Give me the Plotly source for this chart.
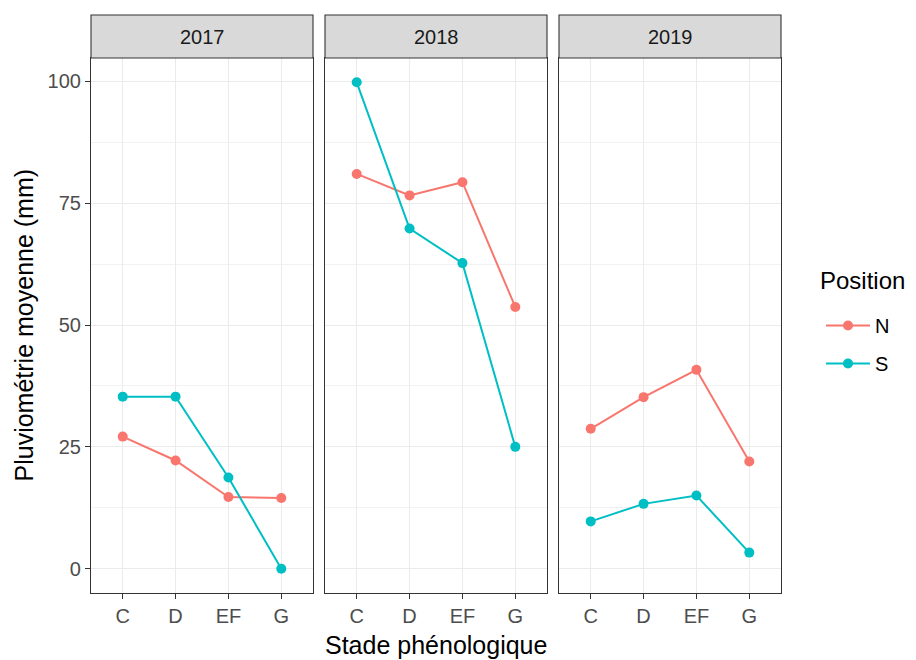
import plotly.graph_objects as go

# Data
years = ["2017", "2018", "2019"]
stades = ["C", "D", "EF", "G"]
pluvio_n = {
    "2017": [27.1, 22.2, 14.7, 14.5],
    "2018": [81.0, 76.6, 79.3, 53.7],
    "2019": [28.7, 35.2, 40.8, 22.0],
}
pluvio_s = {
    "2017": [35.3, 35.3, 18.7, 0.0],
    "2018": [99.8, 69.8, 62.7, 25.0],
    "2019": [9.7, 13.3, 15.0, 3.3],
}
y_ticks = [0, 25, 50, 75, 100]

# the page body has an 8px margin, so the figure starts 8px in;
# positions below are given in window pixels and shifted by OFF
OFF = 8
W, H = 916, 660
col_n = "#F8766D"
col_s = "#00BFC4"
font_family = "Liberation Sans, Arial, sans-serif"


def px(x):
    return (x - OFF) / W


def py(y):
    return 1 - (y - OFF) / H


# panel pixel positions (window coords)
panels_px = [(91, 313), (325, 547), (559, 781)]
panel_top, panel_bottom = 58, 593
strip_top = 15

fig = go.Figure()

for i, yr in enumerate(years):
    suffix = "" if i == 0 else str(i + 1)
    for name, series, col in (("N", pluvio_n, col_n), ("S", pluvio_s, col_s)):
        fig.add_trace(go.Scatter(
            x=stades, y=series[yr],
            mode="lines+markers",
            name=name,
            legendgroup=name,
            showlegend=(i == 0),
            line=dict(color=col, width=2),
            marker=dict(color=col, size=10),
            xaxis="x" + suffix, yaxis="y" + suffix,
        ))

layout = dict(
    width=W, height=H,
    margin=dict(l=0, r=0, t=0, b=0),
    plot_bgcolor="white", paper_bgcolor="white",
    font=dict(family=font_family, color="#000000"),
    showlegend=True,
    legend=dict(
        font=dict(size=20, color="#000000"),
        x=px(821), y=py(306), xanchor="left", yanchor="top",
        bgcolor="rgba(0,0,0,0)", tracegroupgap=9, itemwidth=44,
    ),
)

for i, (l, r) in enumerate(panels_px):
    suffix = "" if i == 0 else str(i + 1)
    layout["xaxis" + suffix] = dict(
        domain=[px(l), px(r)],
        type="category", categoryorder="array", categoryarray=stades,
        range=[-0.6, 3.6],
        showgrid=True, gridcolor="#EBEBEB", gridwidth=1.3,
        showline=True, linecolor="#333333", linewidth=1.1, mirror=True,
        ticks="outside", ticklen=5, tickcolor="#333333",
        tickfont=dict(size=20, color="#4D4D4D"),
        zeroline=False, anchor="y" + suffix,
    )
    layout["yaxis" + suffix] = dict(
        domain=[py(panel_bottom), py(panel_top)],
        range=[-4.99, 104.79],
        tickvals=y_ticks,
        showticklabels=(i == 0),
        showgrid=True, gridcolor="#EBEBEB", gridwidth=1.3,
        minor=dict(tickvals=[12.5, 37.5, 62.5, 87.5], showgrid=True,
                   gridcolor="#F2F2F2", gridwidth=0.7),
        showline=True, linecolor="#333333", linewidth=1.1, mirror=True,
        ticks="outside" if i == 0 else "", ticklen=5, tickcolor="#333333",
        tickfont=dict(size=20, color="#4D4D4D"),
        zeroline=False, anchor="x" + suffix,
    )

fig.update_layout(**layout)

# facet strips
for i, (l, r) in enumerate(panels_px):
    fig.add_shape(
        type="rect", xref="paper", yref="paper",
        x0=px(l), x1=px(r), y0=py(panel_top), y1=py(strip_top),
        fillcolor="#D9D9D9", line=dict(color="#333333", width=1.1),
        layer="above",
    )
    fig.add_annotation(
        x=px((l + r) / 2), y=py((strip_top + panel_top) / 2),
        xref="paper", yref="paper", text=years[i], showarrow=False,
        font=dict(size=20, color="#1A1A1A"), xanchor="center", yanchor="middle",
    )

# axis titles and legend title
fig.add_annotation(
    x=px((91 + 781) / 2), y=py(645), xref="paper", yref="paper",
    text="Stade phénologique", showarrow=False,
    font=dict(size=25, color="#000000"), xanchor="center", yanchor="middle",
)
fig.add_annotation(
    x=px(23), y=py((panel_top + panel_bottom) / 2), xref="paper", yref="paper",
    text="Pluviométrie moyenne (mm)", showarrow=False, textangle=-90,
    font=dict(size=25, color="#000000"), xanchor="center", yanchor="middle",
)
fig.add_annotation(
    x=px(818), y=py(280), xref="paper", yref="paper",
    text="Position", showarrow=False,
    font=dict(size=24, color="#000000"), xanchor="left", yanchor="middle",
)

fig.write_html("out.html")
